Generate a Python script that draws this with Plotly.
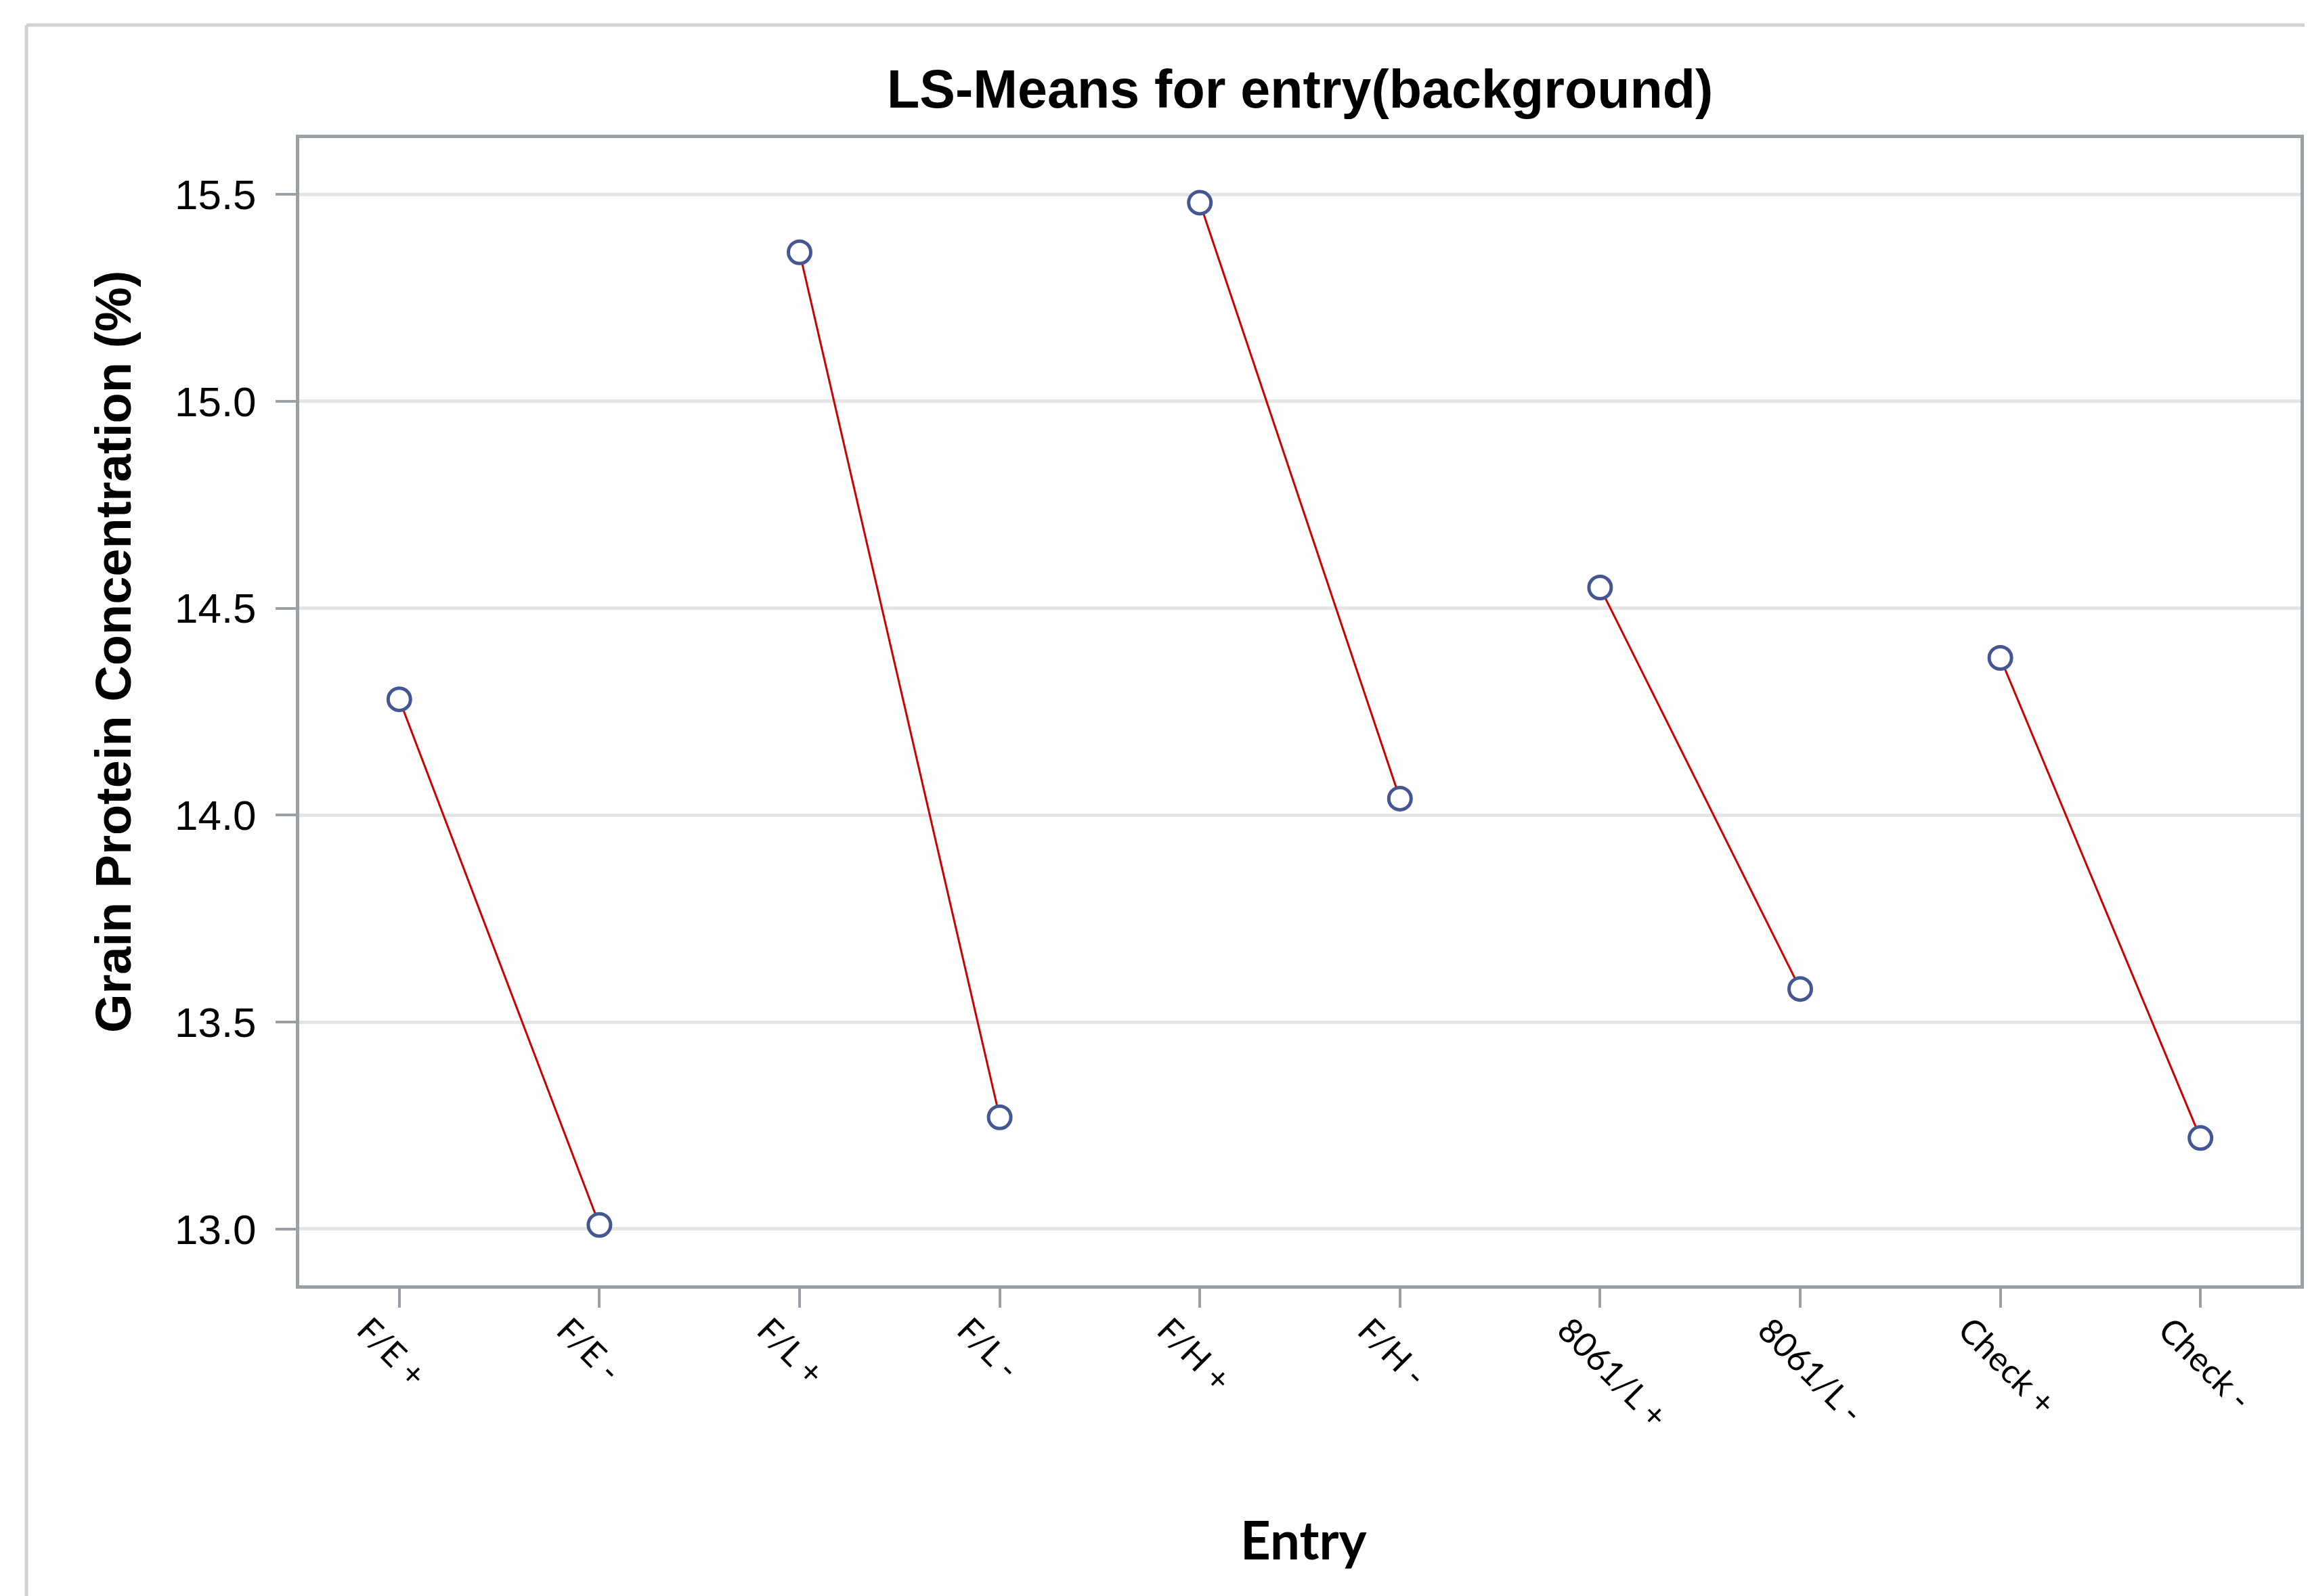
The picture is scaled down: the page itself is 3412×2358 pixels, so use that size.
import plotly.graph_objects as go

# ---- data ----
entries = ["F/E +", "F/E -", "F/L +", "F/L -", "F/H +", "F/H -",
           "8061/L +", "8061/L -", "Check +", "Check -"]
ls_means = [14.28, 13.01, 15.36, 13.27, 15.48, 14.04, 14.55, 13.58, 14.38, 13.22]
y_ticks = [13.0, 13.5, 14.0, 14.5, 15.0, 15.5]

W, H = 3412, 2358
OFF = 8  # browser body margin
# plot area in window pixel coordinates
L, R, T, B = 442, 3398, 204, 1899
ml, mr, mt, mb = L - OFF, W - (R - OFF), T - OFF, H - (B - OFF)
pw, ph = R - L, B - T

def px_x(px):
    return (px - L) / pw

def px_y(py):
    return (B - py) / ph

# connecting lines for each +/- pair
lx, ly = [], []
for i in range(0, len(entries), 2):
    lx += [entries[i], entries[i + 1], None]
    ly += [ls_means[i], ls_means[i + 1], None]

fig = go.Figure()
fig.add_trace(go.Scatter(x=lx, y=ly, mode="lines",
                         line=dict(color="#CC0000", width=3),
                         hoverinfo="skip", showlegend=False))
fig.add_trace(go.Scatter(x=entries, y=ls_means, mode="markers",
                         marker=dict(symbol="circle", size=33, color="white",
                                     line=dict(color="#445694", width=5)),
                         showlegend=False))

axis_col = "#9BA0A4"
tick_label_anns = [
    dict(text=e, xref="x", yref="paper", x=e, y=0, xanchor="left", yanchor="top",
         xshift=-76, yshift=-32, textangle=45, showarrow=False,
         font=dict(family="Lato, Open Sans", size=50, color="black"))
    for e in entries
]

fig.update_layout(
    width=W, height=H,
    margin=dict(l=ml, r=mr, t=mt, b=mb, pad=0),
    paper_bgcolor="white", plot_bgcolor="white",
    font=dict(family="Liberation Sans, Arial", color="black"),
    xaxis=dict(type="category", categoryorder="array", categoryarray=entries,
               range=[-0.5, 9.5], showgrid=False, zeroline=False,
               showline=True, linecolor=axis_col, linewidth=5, mirror=True,
               ticks="outside", ticklen=28, tickwidth=4, tickcolor=axis_col,
               showticklabels=False),
    yaxis=dict(range=[12.864, 15.636], tickvals=y_ticks,
               ticktext=[f"{v:.1f}" for v in y_ticks],
               showgrid=True, gridcolor="#E4E4E4", gridwidth=5, zeroline=False,
               showline=True, linecolor=axis_col, linewidth=5, mirror=True,
               ticks="outside", ticklen=30, tickwidth=4, tickcolor=axis_col,
               ticklabelstandoff=16,
               tickfont=dict(family="Liberation Sans, Arial", size=62, color="black")),
    annotations=[
        dict(text="<b>LS-Means for entry(background)</b>", xref="paper", yref="paper",
             x=0.5, y=px_y(132), xanchor="center", yanchor="middle", showarrow=False,
             font=dict(family="Liberation Sans, Arial", size=79, color="black")),
        dict(text="<b>Grain Protein Concentration (%)</b>", xref="paper", yref="paper",
             x=px_x(167), y=px_y(963), xanchor="center", yanchor="middle",
             textangle=-90, showarrow=False,
             font=dict(family="Liberation Sans, Arial", size=74, color="black")),
        dict(text="<b>Entry</b>", xref="paper", yref="paper",
             x=px_x(1926), y=px_y(2274), xanchor="center", yanchor="middle",
             showarrow=False,
             font=dict(family="Lato, Open Sans", size=78, color="black")),
    ] + tick_label_anns,
    shapes=[
        dict(type="line", xref="paper", yref="paper",
             x0=px_x(39), x1=px_x(W + 20), y0=px_y(37), y1=px_y(37),
             line=dict(color="#D3D3D3", width=5)),
        dict(type="line", xref="paper", yref="paper",
             x0=px_x(39), x1=px_x(39), y0=px_y(37), y1=px_y(H + 20),
             line=dict(color="#D3D3D3", width=5)),
    ],
)

fig.write_html("out.html")
